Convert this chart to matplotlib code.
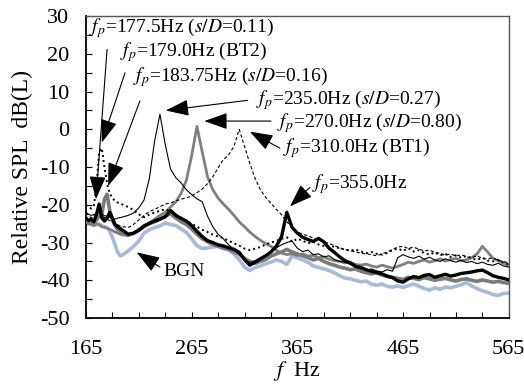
import numpy as np
from matplotlib import pyplot as plt

plt.rcParams['font.family'] = ['Liberation Serif', 'DejaVu Serif']
plt.rcParams['mathtext.fontset'] = 'stix'
plt.rcParams['axes.unicode_minus'] = False

# frequency samples (Hz)
freq = [165, 167.5, 170, 172.5, 175, 177.5, 180, 182.5, 185, 187.5, 190, 192.5, 195, 197.5, 200,
        205, 210, 215, 220, 225, 230, 235, 240, 245, 250, 255, 260, 265, 270, 275, 280, 285,
        290, 295, 300, 305, 310, 315, 320, 325, 330, 335, 340, 345, 350, 355, 360, 365, 370,
        375, 380, 385, 390, 395, 400, 405, 410, 415, 420, 425, 430, 435, 440, 445, 450, 455,
        460, 465, 470, 475, 480, 485, 490, 495, 500, 505, 510, 515, 520, 525, 530, 535, 540,
        545, 550, 555, 560, 565]

xticks = [165, 265, 365, 465, 565]
xticks_minor = [190, 215, 240, 290, 315, 340, 390, 415, 440, 490, 515, 540]
yticks = [-50, -40, -30, -20, -10, 0, 10, 20, 30]

# s/D=0.11 (fp=177.5Hz, 355Hz)
spl_sd011 = [-23.5, -24.2, -23.8, -24.5, -22.5, -19.8, -23.5, -24.3, -23.5, -22.0, -23.5, -25.2, -25.8, -26.3, -26.8,
             -27.8, -27.5, -26.8, -25.6, -24.9, -24.3, -23.8, -23.2, -21.5, -22.8, -23.6, -24.3, -25.5, -27.0, -28.4,
             -29.5, -30.0, -30.6, -30.9, -31.4, -31.8, -32.6, -34.5, -36.0, -35.2, -34.3, -33.5, -32.5, -31.0, -28.5,
             -22.0, -26.0, -27.5, -28.6, -29.2, -29.7, -28.9, -29.8, -31.5, -32.6, -33.8, -34.8, -35.4, -36.3, -36.6,
             -37.2, -37.6, -38.0, -38.3, -38.9, -39.3, -40.2, -40.5, -39.6, -39.0, -39.3, -38.7, -38.5, -39.2, -38.8,
             -38.4, -38.9, -38.6, -38.2, -38.0, -37.8, -37.5, -37.3, -38.0, -38.8, -39.2, -39.5, -39.9]

# s/D=0.16 (fp=183.75Hz)
spl_sd016 = [-24.0, -24.8, -25.0, -24.6, -24.0, -23.0, -22.5, -18.5, -17.2, -21.5, -24.0, -25.5, -26.5, -27.0, -27.3,
             -28.0, -27.6, -26.6, -25.8, -25.0, -24.5, -23.8, -23.0, -22.4, -23.5, -24.5, -25.2, -26.4, -27.8, -29.0,
             -29.8, -30.5, -31.0, -31.5, -31.8, -32.5, -33.0, -34.2, -35.0, -35.5, -35.0, -34.5, -33.6, -33.0, -32.5,
             -31.8, -32.5, -33.0, -33.5, -34.0, -34.6, -34.2, -35.0, -35.6, -36.0, -36.5, -36.8, -37.2, -37.0, -37.6,
             -38.0, -38.3, -38.0, -38.6, -39.0, -39.2, -39.5, -39.8, -39.2, -39.5, -39.8, -39.3, -39.6, -40.0, -39.7,
             -39.5, -39.9, -40.2, -39.8, -39.6, -40.0, -40.3, -39.9, -40.2, -40.5, -40.3, -40.6, -40.8]

# s/D=0.27 (fp=235.0Hz)
spl_sd027 = [-22.0, -22.5, -22.8, -22.6, -22.3, -21.8, -22.4, -22.9, -23.0, -23.3, -23.6, -23.8, -23.5, -23.4, -23.2,
             -22.8, -22.2, -20.8, -18.7, -13.0, -3.0, 4.0, -4.0, -10.5, -12.8, -14.2, -16.0, -17.3, -18.4, -19.2,
             -23.0, -25.8, -27.8, -29.0, -30.6, -31.8, -33.2, -34.6, -35.3, -34.8, -34.2, -33.6, -32.5, -31.4, -30.6,
             -30.0, -29.6, -31.5, -32.4, -32.0, -33.2, -33.0, -33.8, -33.5, -34.5, -35.0, -35.2, -35.8, -36.5, -37.0,
             -37.3, -37.0, -37.5, -37.8, -37.2, -37.6, -34.0, -33.2, -33.8, -34.2, -33.6, -34.4, -33.9, -34.6, -35.0,
             -34.3, -34.8, -35.2, -34.7, -35.3, -35.0, -35.6, -35.2, -35.8, -36.0, -35.5, -36.2, -36.5]

# s/D=0.80 (fp=270.0Hz)
spl_sd080 = [-24.5, -25.0, -25.2, -25.5, -25.0, -25.3, -25.8, -26.0, -26.2, -26.5, -26.8, -27.2, -27.5, -27.8, -28.0,
             -28.2, -27.5, -26.5, -25.5, -24.8, -23.8, -22.8, -22.0, -20.6, -19.2, -17.0, -13.5, -7.0, 0.8, -6.0,
             -12.5, -16.0, -18.2, -19.8, -21.2, -22.8, -24.5, -25.8, -27.2, -28.4, -29.4, -30.3, -31.0, -32.0, -32.8,
             -33.2, -33.0, -33.4, -33.0, -33.6, -33.4, -34.0, -33.8, -34.4, -34.8, -35.0, -35.4, -35.2, -35.8, -36.0,
             -35.7, -36.2, -36.5, -36.0, -36.4, -36.8, -36.3, -35.8, -35.2, -35.5, -35.0, -34.6, -35.2, -34.8, -34.3,
             -34.9, -34.5, -34.2, -34.8, -34.6, -34.0, -33.0, -31.0, -32.5, -34.2, -34.8, -35.5, -36.0]

# BT2 (fp=179.0Hz)
spl_bt2 = [-20.0, -20.5, -21.0, -20.2, -15.0, -6.0, -5.0, -10.0, -14.3, -17.0, -18.2, -19.0, -19.4, -19.6, -20.0,
           -20.6, -21.4, -22.5, -23.3, -22.6, -22.0, -21.6, -21.2, -21.8, -22.6, -23.4, -24.2, -25.0, -25.8, -26.6,
           -27.2, -27.9, -28.4, -28.8, -29.5, -30.2, -30.8, -31.6, -32.0, -31.6, -31.2, -30.5, -30.0, -29.6, -29.0,
           -28.6, -29.8, -29.0, -29.5, -30.2, -29.8, -30.5, -30.9, -31.3, -31.0, -31.6, -31.8, -32.2, -31.8, -32.4,
           -32.8, -32.5, -33.0, -33.2, -32.8, -32.0, -31.6, -32.2, -31.5, -32.4, -32.0, -32.8, -33.2, -32.6, -33.4,
           -33.0, -33.8, -33.4, -34.0, -33.6, -34.2, -34.6, -34.0, -34.8, -35.0, -34.6, -35.3, -35.8]

# BT1 (fp=310.0Hz)
spl_bt1 = [-22.0, -22.8, -23.5, -23.0, -22.5, -22.2, -22.8, -23.4, -23.8, -24.2, -24.6, -25.0, -25.3, -25.6, -25.8,
           -26.0, -25.2, -24.0, -22.8, -21.8, -21.2, -20.5, -19.8, -19.5, -19.0, -18.5, -18.2, -17.6, -16.8, -15.8,
           -14.4, -12.6, -10.2, -8.0, -6.8, -4.5, 0.0, -4.5, -9.0, -13.0, -16.0, -18.0, -19.6, -21.2, -22.6,
           -24.5, -26.0, -27.2, -27.8, -28.2, -28.8, -29.2, -29.8, -30.2, -30.8, -31.4, -31.8, -32.2, -32.5, -32.8,
           -33.0, -33.2, -33.5, -33.0, -32.5, -31.8, -31.2, -31.0, -31.6, -31.2, -31.8, -32.2, -32.0, -32.6, -32.8,
           -33.4, -33.0, -33.6, -33.2, -33.8, -34.0, -33.5, -34.2, -34.4, -34.0, -34.8, -35.0, -35.4]

# background noise
spl_bgn = [-24.6, -25.0, -24.8, -25.4, -25.3, -25.0, -25.6, -25.8, -26.0, -27.0, -28.6, -30.5, -32.6, -33.5, -33.2,
           -32.2, -31.0, -29.6, -27.5, -26.6, -26.0, -25.6, -24.8, -25.2, -25.5, -26.4, -27.3, -29.0, -30.8, -31.6,
           -31.4, -31.2, -31.0, -31.5, -32.0, -33.0, -34.5, -36.5, -37.4, -36.6, -36.2, -35.6, -35.2, -34.6, -35.0,
           -35.8, -33.6, -34.0, -34.6, -35.2, -36.2, -36.6, -37.0, -37.4, -38.0, -38.8, -39.4, -39.6, -40.0, -40.4,
           -40.2, -41.0, -41.3, -41.0, -41.6, -41.8, -41.5, -41.9, -41.4, -41.0, -41.6, -42.2, -42.6, -42.0, -42.4,
           -41.8, -42.0, -41.6, -41.2, -40.6, -41.5, -42.2, -42.8, -43.2, -43.8, -44.0, -43.5, -43.4]

fig = plt.figure(figsize=(5.24, 3.85), dpi=100)
ax = fig.add_axes([0.164, 0.174, 0.807, 0.784])

ax.plot(freq, spl_bgn, color='#a8bad8', lw=2.6, zorder=2)
ax.plot(freq, spl_sd080, color='#808080', lw=2.0, zorder=3)
ax.plot(freq, spl_sd016, color='#7a7a7a', lw=2.6, zorder=3)
ax.plot(freq, spl_sd027, color='k', lw=0.8, zorder=4)
ax.plot(freq, spl_bt1, color='k', lw=0.8, ls=(0, (3, 2)), zorder=4)
ax.plot(freq, spl_bt2, color='k', lw=1.4, ls=(0, (1, 1.6)), zorder=4)
ax.plot(freq, spl_sd011, color='k', lw=2.4, zorder=5)

ax.set_xlim(165, 565)
ax.set_ylim(-50, 30)
ax.set_xticks(xticks)
ax.set_xticks(xticks_minor, minor=True)
ax.set_yticks(yticks)
ax.set_yticks([-45, -35, -25, -15, -5, 5, 15, 25], minor=True)
ax.tick_params(which='both', direction='in', length=4, width=0.8, labelsize=16)
ax.tick_params(axis='x', pad=16)
ax.tick_params(axis='y', pad=12)
for s in ['left', 'bottom']:
    ax.spines[s].set_linewidth(1.3)
for s in ['top', 'right']:
    ax.spines[s].set_color('#555555')
    ax.spines[s].set_linewidth(1.0)

ax.set_xlabel('$f$  Hz', fontsize=16, labelpad=0)
ax.set_ylabel('Relative SPL  dB(L)', fontsize=17, labelpad=5)

# annotations: (text, text pos, arrow tail, arrow tip)
notes = [
    ('$f_p$=177.5Hz ($s/D$=0.11)', (167.8, 26.8), (185, 21.2), (174.5, -18.5)),
    ('$f_p$=179.0Hz (BT2)', (197, 20.5), (202, 15), (180, -3.5)),
    ('$f_p$=183.75Hz ($s/D$=0.16)', (209.4, 13.8), (216, 7.5), (186, -15)),
    ('$f_p$=235.0Hz ($s/D$=0.27)', (325.8, 7.7), (318, 7.7), (240.5, 5.0)),
    ('$f_p$=270.0Hz ($s/D$=0.80)', (345.6, 1.6), (340, 2.2), (277, 2.2)),
    ('$f_p$=310.0Hz (BT1)', (351.3, -5.0), (348.5, -5.0), (320, -0.6)),
    ('$f_p$=355.0Hz', (378.7, -14.5), (376.8, -15.4), (358, -20.4)),
    ('BGN', (238.7, -37.8), (235, -36.5), (213, -32.6)),
]
for txt, tpos, tail, tip in notes:
    ax.text(tpos[0], tpos[1], txt, fontsize=14, ha='left', va='center', zorder=6)
    ax.annotate('', xy=tip, xytext=tail,
                arrowprops=dict(arrowstyle='-|>,head_length=0.9,head_width=0.32',
                                color='k', lw=0.8, mutation_scale=16, shrinkA=0, shrinkB=0),
                zorder=6)

fig.savefig('out.png', dpi=100)
